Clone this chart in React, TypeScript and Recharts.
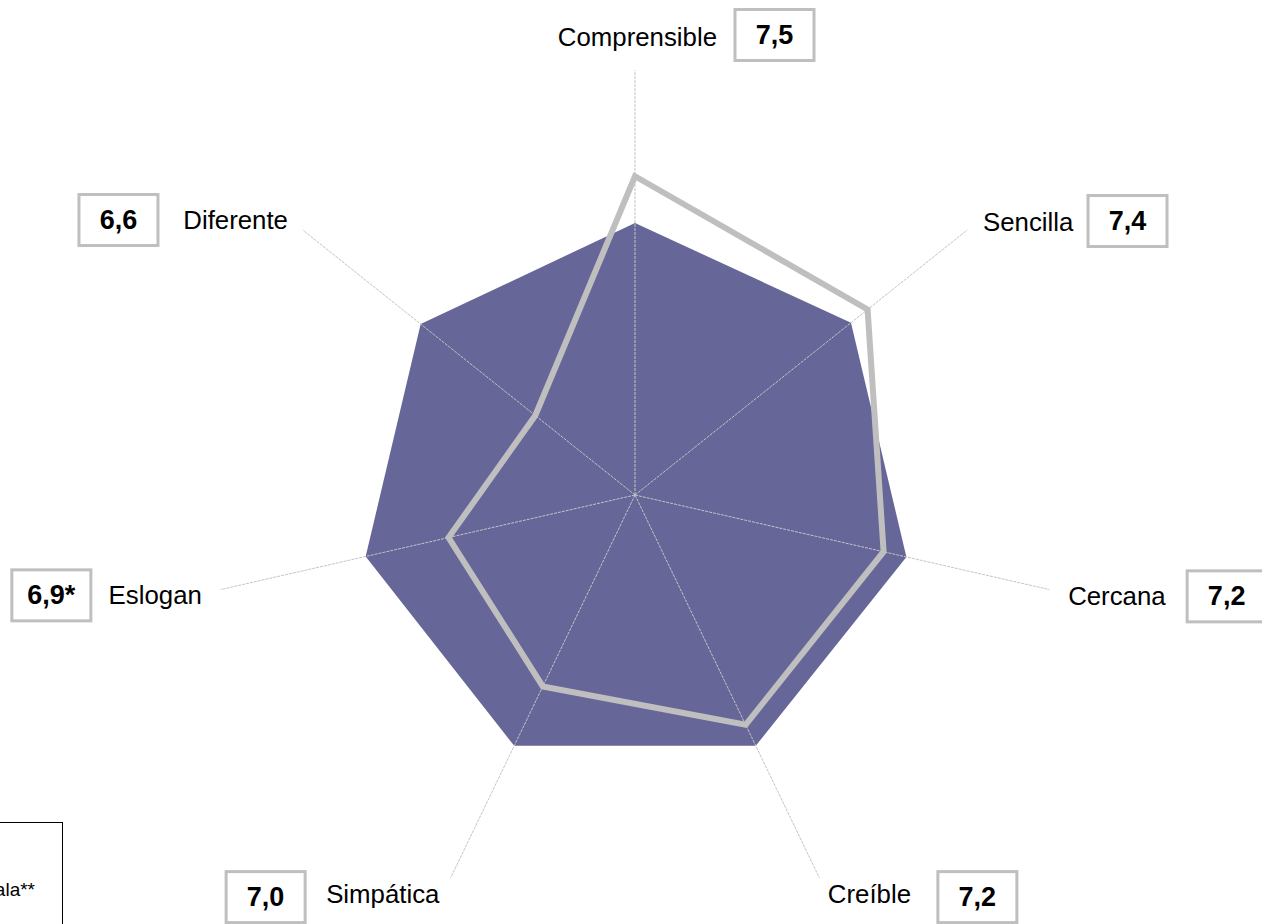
import React from 'react';
import { RadarChart, Radar, PolarGrid, PolarAngleAxis, PolarRadiusAxis } from 'recharts';

const categories = ['Comprensible', 'Sencilla', 'Cercana', 'Creíble', 'Simpática', 'Eslogan', 'Diferente'];
const valueLabels = ['7,5', '7,4', '7,2', '7,2', '7,0', '6,9*', '6,6'];
const adScores = [7.5, 7.4, 7.2, 7.2, 7.0, 6.9, 6.6];
const normScores = [7.28, 7.3, 7.31, 7.31, 7.31, 7.3, 7.29];
const radiusDomain = [6, 8];
const legendText = 'Media escala**';

const data = categories.map((name, i) => ({ name, ad: adScores[i], norm: normScores[i], label: valueLabels[i] }));

// label layout relative to the tick anchor point (styling only)
const LABEL_LAYOUT = [
  { anchor: 'end', tdx: 82, tdy: -25, bdx: 100, bdy: -27 },
  { anchor: 'start', tdx: 9.5, tdy: -3, bdx: 114.5, bdy: -4 },
  { anchor: 'start', tdx: 11, tdy: 5, bdx: 130, bdy: 5 },
  { anchor: 'start', tdx: 5, tdy: 9, bdx: 115, bdy: 12 },
  { anchor: 'start', tdx: -121, tdy: 9, bdx: -221, bdy: 12 },
  { anchor: 'end', tdx: -11, tdy: 4, bdx: -201, bdy: 4 },
  { anchor: 'end', tdx: -8.5, tdy: -5, bdx: -217.5, bdy: -5 },
];

const BOX_W = 79;
const BOX_H = 51;
const FONT = 'Liberation Sans, Arial, sans-serif';

const Tick = (props: any) => {
  const { x, y, payload } = props;
  const i = categories.indexOf(payload.value);
  const L = LABEL_LAYOUT[i];
  const bx = x + L.bdx;
  const by = y + L.bdy - BOX_H / 2;
  return (
    <g>
      <text x={x + L.tdx} y={y + L.tdy} textAnchor={L.anchor} dominantBaseline="central"
        fontFamily={FONT} fontSize={25.8} fill="#000">
        {payload.value}
      </text>
      <rect x={bx} y={by} width={BOX_W} height={BOX_H} fill="#fff" stroke="#bfbfbf" strokeWidth={3} />
      <text x={bx + BOX_W / 2} y={by + BOX_H / 2} textAnchor="middle" dominantBaseline="central"
        fontFamily={FONT} fontSize={27} fontWeight="bold" fill="#000">
        {valueLabels[i]}
      </text>
    </g>
  );
};

const chartProps = {
  width: 1262,
  height: 924,
  cx: 635,
  cy: 495,
  outerRadius: 425,
  data,
  margin: { top: 0, right: 0, bottom: 0, left: 0 },
};

const layer: React.CSSProperties = { position: 'absolute', left: 0, top: 0 };

export default function App() {
  return (
    <div style={{ position: 'absolute', left: 0, top: 0, width: 1262, height: 924, overflow: 'hidden', background: '#fff' }}>
      <div style={layer}>
        <RadarChart {...chartProps}>
          <PolarRadiusAxis domain={radiusDomain} tick={false} axisLine={false} tickCount={2} />
          <Radar dataKey="norm" stroke="none" fill="#666699" fillOpacity={1} isAnimationActive={false} />
        </RadarChart>
      </div>
      <div style={layer}>
        <RadarChart {...chartProps}>
          <PolarRadiusAxis domain={radiusDomain} tick={false} axisLine={false} tickCount={2} />
          <PolarGrid polarRadius={[0]} stroke="#c4c4c4" strokeDasharray="3 1" strokeWidth={1} />
          <Radar dataKey="ad" stroke="#bfbfbf" strokeWidth={6} fill="none" fillOpacity={0} isAnimationActive={false} />
          <PolarAngleAxis dataKey="name" tick={<Tick />} tickLine={false} axisLine={false} />
        </RadarChart>
      </div>
      <div style={{
        position: 'absolute', left: -200, top: 822, width: 263, height: 110,
        border: '1.5px solid #000', boxSizing: 'border-box', background: '#fff',
        fontFamily: FONT, fontSize: 19, textAlign: 'right', whiteSpace: 'nowrap',
        paddingRight: 27, paddingTop: 57, lineHeight: '20px',
      }}>
        {legendText}
      </div>
    </div>
  );
}
